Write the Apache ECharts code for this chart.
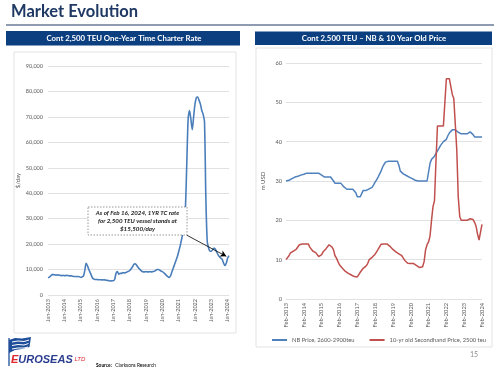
<!DOCTYPE html>
<html>
<head>
<meta charset="utf-8">
<script src="https://cdn.jsdelivr.net/npm/echarts@6/dist/echarts.min.js"></script>
<style>
html,body{margin:0;padding:0;background:#fff;}
#c{width:500px;height:368px;}
</style>
</head>
<body>
<div id="c"></div>
<script>
// ---- Data ----
const leftYears = [2013,2014,2015,2016,2017,2018,2019,2020,2021,2022,2023,2024];
const rightYears = [2013,2014,2015,2016,2017,2018,2019,2020,2021,2022,2023,2024];
const leftTickLabels = leftYears.map(y => 'Jan-' + y);
const rightTickLabels = rightYears.map(y => 'Feb-' + y);

// Cont 2,500 TEU 1yr TC rate, $/day, monthly Jan-2013 .. Feb-2024
const charterRate = [
  6800, 7000, 7500, 8000, 8000, 7900, 7800, 7900, 7800, 7700, 7600, 7700,
  7600, 7600, 7700, 7600, 7500, 7500, 7400, 7300, 7300, 7200, 7300, 7200,
  7000, 7100, 7400, 9500, 12500, 11500, 10000, 8800, 7500, 6500, 6200, 6100,
  6100, 6000, 6000, 6000, 5900, 6000, 5900, 5800, 5700, 5600, 5500, 5600,
  5600, 6200, 8500, 9200, 8200, 8500, 8500, 8800, 8700, 8800, 9000, 9300,
  9600, 10200, 11000, 12000, 12300, 11800, 11000, 10300, 9800, 9300, 9100, 9100,
  9200, 9100, 9100, 9200, 9100, 9200, 9300, 9600, 10000, 10000, 9800, 9400,
  9200, 8800, 8300, 7700, 7200, 6900, 7500, 9000, 10500, 12000, 13500, 15000,
  17000, 19000, 21500, 24000, 28000, 34500, 52000, 69500, 72500, 69000, 65000, 70000,
  75000, 77500, 77800, 76500, 75000, 72500, 71000, 68000, 38000, 21000, 18500, 17200,
  17200, 17800, 18500, 18000, 16800, 15800, 15000, 14500, 14000, 12500, 11600, 12500,
  14500, 15500
];

// NB price 2600-2900 teu, m USD, monthly Feb-2013 .. Feb-2024
const nbPrice = [
  30, 30, 30.2, 30.4, 30.6, 30.8, 31, 31.1, 31.2, 31.4, 31.5, 31.6,
  31.7, 31.8, 32, 32, 32, 32, 32, 32, 32, 32, 32, 32.5,
  31.5, 31, 31, 31, 31, 31, 31, 31, 30, 29.4, 29.4, 29.4,
  29.4, 29.4, 29, 28.5, 28.2, 27.9, 27.9, 27.9, 27.9, 27.9, 27.9, 27,
  26, 26, 26, 26.8, 27.6, 27.6, 27.6, 27.6, 28, 28.2, 28.4, 29,
  29.7, 30.3, 31, 31.5, 32.5, 33.5, 34.2, 34.8, 35, 35, 35, 35,
  35, 35, 35, 35, 34, 32.5, 32, 31.8, 31.6, 31.4, 31.2, 31,
  30.8, 30.6, 30.4, 30.2, 30, 30, 30, 30, 30, 30, 30, 30,
  30, 34.5, 35.5, 36, 36.3, 37, 37.5, 38.3, 39, 39.5, 40, 40.3,
  40.6, 41.5, 42.2, 42.7, 43, 43, 43, 42.8, 42.4, 42.2, 42, 42,
  42, 42, 42, 42.3, 42.5, 42.4, 41.8, 41.2, 41.2, 41.2, 41.2, 41.2,
  41.2
];

// 10-yr old secondhand price 2500 teu, m USD, monthly Feb-2013 .. Feb-2024
const secondhandPrice = [
  10, 10.5, 11, 11.7, 12, 12.2, 12.5, 12.7, 13.2, 13.8, 14, 14,
  14, 14, 14, 14, 13.2, 12.7, 12.2, 11.9, 11.8, 11.3, 10.8, 10.6,
  11.3, 12, 12.3, 12.8, 13.3, 13.8, 13.5, 13.2, 12.5, 11, 10.4, 9.5,
  8.7, 8.2, 7.8, 7.3, 7, 6.8, 6.5, 6.3, 6.1, 5.9, 5.7, 5.6,
  5.6, 6.2, 6.8, 7.3, 7.8, 8.1, 8.4, 9, 10, 10.4, 10.6, 10.8,
  11.4, 12, 12.6, 13, 13.9, 14, 14, 14, 14, 13.7, 13.4, 13,
  12.6, 12.3, 12, 11.7, 11.5, 11.3, 11, 10.4, 9.8, 9.5, 9.1, 9,
  9, 9, 9, 9, 8.5, 8, 8, 8, 8.2, 9.5, 12.5, 13.8,
  14.5, 16, 20, 23.5, 25, 35, 44, 44, 44, 44, 44, 50,
  56, 56, 56, 56, 52, 51, 51, 38, 26, 21, 20, 20,
  20, 20, 20, 20.4, 20.4, 20.4, 20.2, 19.5, 18.5, 16.5, 15, 15,
  19
];

const monthNames = ['Jan','Feb','Mar','Apr','May','Jun','Jul','Aug','Sep','Oct','Nov','Dec'];
const leftCats = charterRate.map((_, i) => monthNames[i % 12] + '-' + (2013 + Math.floor(i / 12)));
const rightCats = nbPrice.map((_, i) => monthNames[(i + 1) % 12] + '-' + (2013 + Math.floor((i + 1) / 12)));

// ---- Chart ----
const FONT = 'Lato';
const chart = echarts.init(document.getElementById('c'), null, {renderer: 'canvas'});
const tickColor = '#595959';
const gridColor = '#d9d9d9';

const option = {
  backgroundColor: '#ffffff',
  animation: false,
  textStyle: {fontFamily: FONT},
  grid: [
    {left: 48, top: 66, width: 181, height: 229},
    {left: 286, top: 63, width: 196, height: 236}
  ],
  xAxis: [
    {
      gridIndex: 0, type: 'category', data: leftCats, boundaryGap: false,
      axisLine: {show: false}, axisTick: {show: false},
      axisLabel: {
        interval: (i) => i % 12 === 0, rotate: 90, fontSize: 5.5, color: tickColor, margin: 4,
        fontFamily: FONT,
        formatter: (v, i) => leftTickLabels[Math.floor(i / 12)]
      },
      splitLine: {show: false}
    },
    {
      gridIndex: 1, type: 'category', data: rightCats, boundaryGap: false,
      axisLine: {show: false}, axisTick: {show: false},
      axisLabel: {
        interval: (i) => i % 12 === 0, rotate: 90, fontSize: 5.7, color: tickColor, margin: 4,
        fontFamily: FONT,
        formatter: (v, i) => rightTickLabels[Math.floor(i / 12)]
      },
      splitLine: {show: false}
    }
  ],
  yAxis: [
    {
      gridIndex: 0, type: 'value', min: 0, max: 90000, interval: 10000,
      name: '$/day', nameLocation: 'middle', nameGap: 27,
      nameTextStyle: {fontSize: 6, color: tickColor, fontFamily: FONT},
      axisLine: {show: false}, axisTick: {show: false},
      axisLabel: {fontSize: 5.5, color: tickColor, margin: 5, fontFamily: FONT,
        formatter: (v) => v.toLocaleString('en-US')},
      splitLine: {lineStyle: {color: gridColor, width: 0.8}}
    },
    {
      gridIndex: 1, type: 'value', min: 0, max: 60, interval: 10,
      name: 'm USD', nameLocation: 'middle', nameGap: 20,
      nameTextStyle: {fontSize: 6, color: tickColor, fontFamily: FONT},
      axisLine: {show: false}, axisTick: {show: false},
      axisLabel: {fontSize: 5.7, color: tickColor, margin: 4, fontFamily: FONT},
      splitLine: {lineStyle: {color: gridColor, width: 0.8}}
    }
  ],
  legend: {
    left: 272, top: 337, padding: 0, itemWidth: 15, itemHeight: 2, itemGap: 15, icon: 'rect',
    textStyle: {fontSize: 5.8, color: tickColor, fontFamily: FONT},
    data: ['NB Price, 2600-2900teu', '10-yr old Secondhand Price, 2500 teu']
  },
  series: [
    {
      name: 'TC rate', type: 'line', xAxisIndex: 0, yAxisIndex: 0, data: charterRate,
      showSymbol: false, smooth: 0.25, lineStyle: {color: '#4A7EBB', width: 1.6},
      itemStyle: {color: '#4A7EBB'},
      markLine: {
        silent: true, symbol: ['none', 'arrow'], symbolSize: [5, 6],
        lineStyle: {color: '#000', width: 0.8, type: 'solid'}, label: {show: false},
        data: [[{coord: [leftCats[102], 23500]}, {coord: [leftCats[131], 15200]}]]
      }
    },
    {
      name: 'NB Price, 2600-2900teu', type: 'line', xAxisIndex: 1, yAxisIndex: 1, data: nbPrice,
      showSymbol: false, lineStyle: {color: '#4F81BD', width: 1.5}, itemStyle: {color: '#4F81BD'}
    },
    {
      name: '10-yr old Secondhand Price, 2500 teu', type: 'line', xAxisIndex: 1, yAxisIndex: 1, data: secondhandPrice,
      showSymbol: false, lineStyle: {color: '#C0504D', width: 1.5}, itemStyle: {color: '#C0504D'}
    }
  ],
  graphic: [
    // title
    {type: 'text', left: 11, top: 3, style: {text: 'Market Evolution', fontSize: 16.5, fontWeight: 'bold', fontFamily: FONT, fill: '#1F3864'}},
    {type: 'line', shape: {x1: 6, y1: 25, x2: 494, y2: 25}, style: {stroke: '#1F3864', lineWidth: 1.2}},
    // panels
    {type: 'rect', shape: {x: 14, y: 52, width: 222, height: 281}, style: {fill: 'none', stroke: '#e3e3e3', lineWidth: 1}, z: -1},
    {type: 'rect', shape: {x: 256, y: 48, width: 236, height: 299}, style: {fill: 'none', stroke: '#e3e3e3', lineWidth: 1}, z: -1},
    // header bars
    {type: 'rect', shape: {x: 6, y: 31, width: 234, height: 14.5}, style: {fill: '#0B3F80'}},
    {type: 'text', x: 124, y: 38.5, style: {text: 'Cont 2,500 TEU One-Year Time Charter Rate', fontSize: 7.8, fontWeight: 'bold', fontFamily: FONT, fill: '#fff', align: 'center', verticalAlign: 'middle'}},
    {type: 'rect', shape: {x: 255, y: 31.5, width: 237, height: 13.5}, style: {fill: '#0B3F80'}},
    {type: 'text', x: 374, y: 38.5, style: {text: 'Cont 2,500 TEU \u2013 NB & 10 Year Old Price', fontSize: 7.8, fontWeight: 'bold', fontFamily: FONT, fill: '#fff', align: 'center', verticalAlign: 'middle'}},
    // annotation box
    {type: 'rect', shape: {x: 88, y: 207, width: 99, height: 28}, style: {fill: '#fff', stroke: '#7f7f7f', lineWidth: 0.8, lineDash: [1.5, 1.5]}, z: 10},
    {type: 'text', x: 137.5, y: 221, z: 11, style: {text: 'As of Feb 16, 2024, 1YR TC rate\nfor 2,500 TEU vessel stands at\n$15,500/day', fontSize: 6.2, lineHeight: 8, fontStyle: 'italic', fontWeight: 'bold', fontFamily: FONT, fill: '#1a1a1a', align: 'center', verticalAlign: 'middle'}},
    // logo
    {type: 'polygon', shape: {points: [[9,340],[15,338],[22,338.5],[31,337],[29.5,347],[22,349],[15,350],[9,353]]}, style: {fill: '#1F4E9A'}},
    {type: 'line', shape: {x1: 9, y1: 338, x2: 9, y2: 366}, style: {stroke: '#1F4E9A', lineWidth: 1.3}},
    {type: 'polyline', shape: {points: [[12,342],[18,341],[24,341.5],[29,340]]}, style: {stroke: '#fff', lineWidth: 1, fill: 'none'}},
    {type: 'polyline', shape: {points: [[12,345.5],[18,344.5],[24,345],[28.5,343.5]]}, style: {stroke: '#fff', lineWidth: 1, fill: 'none'}},
    {type: 'polyline', shape: {points: [[12,349],[18,348],[24,348],[28,347]]}, style: {stroke: '#fff', lineWidth: 1, fill: 'none'}},
    {type: 'text', left: 11, top: 354, style: {
      text: '{e|E}{b|UROSEAS}{l| LTD}',
      rich: {
        e: {fontSize: 11, fontWeight: 'bold', fontStyle: 'italic', fill: '#E0262C', fontFamily: 'Liberation Sans'},
        b: {fontSize: 11, fontWeight: 'bold', fontStyle: 'italic', fill: '#2A3D8F', fontFamily: 'Liberation Sans'},
        l: {fontSize: 6, fontStyle: 'italic', fill: '#E0262C', fontFamily: 'Liberation Sans'}
      }
    }},
    {type: 'text', left: 96, top: 359, style: {
      text: '{s|Source:} {r|Clarksons Research}',
      rich: {
        s: {fontSize: 4.8, fontWeight: 'bold', fill: '#000', fontFamily: FONT},
        r: {fontSize: 4.8, fill: '#000', fontFamily: FONT}
      }
    }},
    {type: 'text', left: 470, top: 351, style: {text: '15', fontSize: 7, fill: '#8c8c8c', fontFamily: FONT}}
  ]
};
chart.setOption(option);
</script>
</body>
</html>
